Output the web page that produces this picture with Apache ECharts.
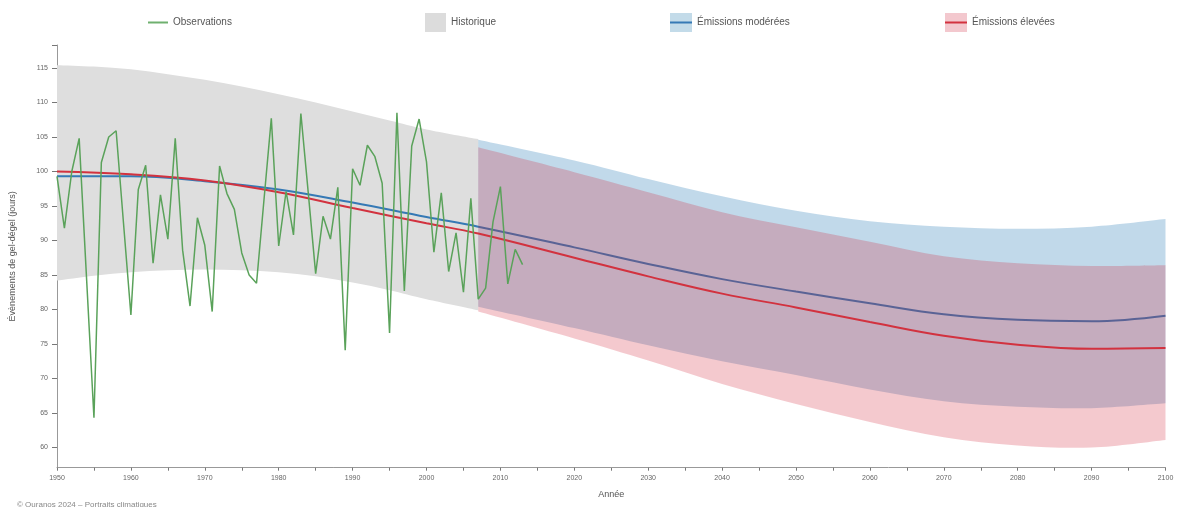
<!DOCTYPE html>
<html>
<head>
<meta charset="utf-8">
<script src="https://cdn.jsdelivr.net/npm/echarts@6/dist/echarts.min.js"></script>
<style>
html,body{margin:0;padding:0;background:#fff;}
#chart{width:1177px;height:507px;}
</style>
</head>
<body>
<div id="chart"></div>
<script>
// ---- data ----
const obsStartYear = 1950;
const obsValues = [99.3,91.8,100.0,104.8,84.5,64.3,101.3,105.0,105.9,92.5,
  79.2,97.4,100.9,86.7,96.6,90.2,104.8,88.6,80.5,93.3,
  89.3,79.7,100.8,96.8,94.5,88.2,85.0,83.8,95.8,107.7,
  89.2,97.1,90.8,108.4,96.9,85.2,93.5,90.2,97.7,74.1,
  100.4,98.0,103.8,102.2,98.3,76.6,108.5,82.7,103.7,107.6,
  101.4,88.3,96.9,85.5,91.1,82.5,96.1,81.5,83.1,92.7,
  97.8,83.7,88.7,86.5];

const histYears = [1950,1955,1960,1965,1970,1975,1980,1985,1990,1995,2000,2007];
const histUpper = [115.4,115.2,114.8,114.1,113.3,112.3,111.2,110.0,108.7,107.4,106.1,104.7];
const histLower = [84.2,84.9,85.4,85.7,85.8,85.7,85.4,84.8,83.9,82.8,81.5,79.9];

const medYears = [1950,1960,1970,1980,1990,2000,2007,2020,2030,2040,2050,2060,2070,2080,2090,2100];
const modMedian = [99.3,99.3,98.6,97.4,95.5,93.4,92.0,89.0,86.6,84.4,82.6,80.9,79.3,78.5,78.3,79.1];
const highMedian = [100.0,99.6,98.7,97.0,94.7,92.5,91.0,87.5,84.8,82.3,80.3,78.2,76.2,74.9,74.3,74.4];

const projYears = [2007,2020,2030,2040,2050,2060,2070,2080,2090,2100];
const modUpper = [104.6,101.6,98.9,96.4,94.3,92.8,92.0,91.7,92.0,93.1];
const modLower = [80.4,77.3,74.8,72.5,70.5,68.4,66.7,65.9,65.7,66.4];
const highUpper = [103.5,99.9,97.0,94.1,91.9,89.8,87.7,86.7,86.3,86.4];
const highLower = [79.7,75.8,72.6,69.2,66.3,63.7,61.5,60.3,60.0,61.1];

const xTickLabels = [1950,1960,1970,1980,1990,2000,2010,2020,2030,2040,2050,2060,2070,2080,2090,2100];
const xTicks = [1950,1955,1960,1965,1970,1975,1980,1985,1990,1995,2000,2005,2010,2015,2020,2025,2030,2035,2040,2045,2050,2055,2060,2065,2070,2075,2080,2085,2090,2095,2100];
const yTickLabels = [60,65,70,75,80,85,90,95,100,105,110,115];
const yMin = 57.07, yMax = 118.33;

const names = ['Observations','Historique','Émissions modérées','Émissions élevées'];

// ---- build ----
const pairs = (xs, ys) => xs.map((x,i)=>[x, ys[i]]);
const obsData = obsValues.map((v,i)=>[obsStartYear+i, v]);

const COL = {
  obs:'#5aa25a', hist:'#dedede',
  modBand:'rgba(31,119,180,0.28)', modLine:'#3579b5',
  highBand:'rgba(210,30,50,0.24)', highLine:'#d2323f'
};

// Catmull-Rom -> cubic bezier path segments through pixel points
function spline(P){
  let s='';
  for(let i=0;i<P.length-1;i++){
    const p0=P[Math.max(i-1,0)], p1=P[i], p2=P[i+1], p3=P[Math.min(i+2,P.length-1)];
    const c1=[p1[0]+(p2[0]-p0[0])/6, p1[1]+(p2[1]-p0[1])/6];
    const c2=[p2[0]-(p3[0]-p1[0])/6, p2[1]-(p3[1]-p1[1])/6];
    s+=' C'+c1[0]+','+c1[1]+' '+c2[0]+','+c2[1]+' '+p2[0]+','+p2[1];
  }
  return s;
}
function band(name, xs, up, lo, color, z){
  return {type:'custom', name:name, silent:true, z:z, itemStyle:{color:color},
    data:[[xs[0], up[0]]],
    renderItem:function(params, api){
      const U = xs.map((x,i)=>api.coord([x, up[i]]));
      const L = xs.map((x,i)=>api.coord([x, lo[i]])).reverse();
      const d = 'M'+U[0][0]+','+U[0][1]+spline(U)+' L'+L[0][0]+','+L[0][1]+spline(L)+' Z';
      return {type:'path', shape:{pathData:d}, style:{fill:color, stroke:null}};
    }};
}
function medLine(name, ys, color, z){
  return {type:'line', name:name, symbol:'none', smooth:0.4, silent:true, z:z,
    lineStyle:{width:2, color:color}, itemStyle:{color:color}, data: pairs(medYears, ys)};
}

const series = [
  band('Historique', histYears, histUpper, histLower, COL.hist, 1),
  band('Émissions modérées', projYears, modUpper, modLower, COL.modBand, 2),
  medLine('Émissions modérées', modMedian, COL.modLine, 3),
  band('Émissions élevées', projYears, highUpper, highLower, COL.highBand, 4),
  medLine('Émissions élevées', highMedian, COL.highLine, 5),
  {type:'line', name:'Observations', symbol:'none', silent:true, z:6,
    lineStyle:{width:1.5, color:COL.obs}, itemStyle:{color:COL.obs}, data: obsData}
];

const FONT = 'Liberation Sans, Arial, sans-serif';
const legendText = {fontSize:10, color:'#555', fontFamily:FONT, lineHeight:12};
function legendAt(left, top, name, w, h, color){
  return {left:left, top:top, padding:0, selectedMode:false, itemWidth:w, itemHeight:h, itemGap:0,
    textStyle:legendText, data:[{name:name, icon:'rect', itemStyle:{color:color, borderWidth:0}}]};
}
const legTop = 13;
const legends = [
  legendAt(148, legTop+3.5, names[0], 20, 2, '#6fb06f'),
  legendAt(425, legTop, names[1], 21, 19, '#dcdcdc'),
  legendAt(670, legTop, names[2], 22, 19, '#c3dbe9'),
  legendAt(945, legTop, names[3], 22, 19, '#f3c8ce')
];

const axisFont = {fontSize:7, color:'#666', fontFamily:FONT};
const option = {
  animation:false,
  backgroundColor:'#fff',
  legend: legends,
  grid:{left:53.5, right:11.5, top:45, bottom:39.3, containLabel:false},
  xAxis:{type:'value', min:1950, max:2100, interval:5,
    name:'Année', nameLocation:'middle', nameGap:22,
    nameTextStyle:{fontSize:9, color:'#555', fontFamily:FONT},
    axisLine:{show:true, lineStyle:{color:'#999', width:1}},
    axisTick:{show:true, length:3, customValues:xTicks, lineStyle:{color:'#777'}},
    axisLabel:Object.assign({customValues:xTickLabels, margin:7, formatter:v=>String(v)}, axisFont),
    splitLine:{show:false}},
  yAxis:{type:'value', min:yMin, max:yMax,
    name:'Évènements de gel-dégel (jours)', nameLocation:'middle', nameGap:40,
    nameTextStyle:{fontSize:9, color:'#555', fontFamily:FONT},
    axisLine:{show:true, lineStyle:{color:'#999', width:1}},
    axisTick:{show:true, length:5, customValues:yTickLabels.concat([yMax]), lineStyle:{color:'#777'}},
    axisLabel:Object.assign({customValues:yTickLabels, margin:9, formatter:v=>String(v)}, axisFont),
    splitLine:{show:false}},
  graphic:[
    {type:'rect', left:670, top:legTop+8.5, z:100, shape:{width:22, height:2}, style:{fill:COL.modLine}, silent:true},
    {type:'rect', left:945, top:legTop+8.5, z:100, shape:{width:22, height:2}, style:{fill:COL.highLine}, silent:true},
    {type:'text', left:17, top:501, style:{text:'© Ouranos 2024 – Portraits climatiques', fontSize:8, fill:'#888', fontFamily:FONT}, silent:true}
  ],
  series: series
};
const chart = echarts.init(document.getElementById('chart'), null, {renderer:'canvas'});
chart.setOption(option);
</script>
</body>
</html>
